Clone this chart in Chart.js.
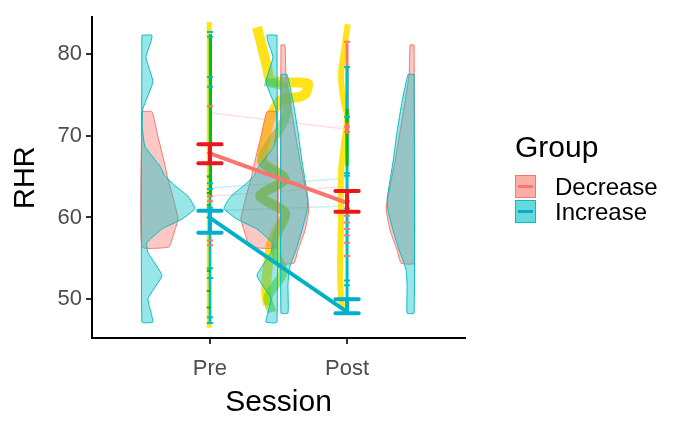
<!DOCTYPE html>
<html>
<head>
<meta charset="utf-8">
<script src="https://cdn.jsdelivr.net/npm/chart.js@4"></script>
<style>
body { margin: 0; background: #fff; }
#wrap { position: relative; width: 673px; height: 424px; font-family: "Liberation Sans", Arial, sans-serif; }
#legend { position: absolute; left: 515px; top: 130px; color: #000; }
#legend .ttl { font-size: 30px; line-height: 34px; margin-bottom: 10px; }
#legend .row { display: flex; align-items: center; height: 25px; }
#legend .key { position: relative; width: 21px; height: 23px; margin-right: 19px; box-sizing: border-box; }
#legend .key i { position: absolute; left: 2px; right: 2px; top: 9px; height: 3px; }
#legend .lab { font-size: 24px; }
</style>
</head>
<body>
<div id="wrap">
<canvas id="c" width="673" height="424"></canvas>
<div id="legend">
  <div class="ttl">Group</div>
  <div class="row"><div class="key" style="background:rgba(248,118,109,0.6);border:1px solid #F8766D"><i style="background:#F8766D"></i></div><span class="lab">Decrease</span></div>
  <div class="row"><div class="key" style="background:rgba(0,191,196,0.6);border:1px solid #00BFC4"><i style="background:#00AFC0"></i></div><span class="lab">Increase</span></div>
</div>
</div>
<script>
// sessions on the x axis: Pre = 1, Post = 2
const sessions = ['Pre', 'Post'];
const groups = ['Decrease', 'Increase'];
const yTicks = [50, 60, 70, 80];

// half violins: RHR level and half width (x units)
const preDecY = [72.95, 69.9, 66.9, 64.7, 62.0, 59.8, 58.1, 56.4];
const preDecD = [0.073, 0.117, 0.161, 0.190, 0.234, 0.263, 0.234, 0.197];
const preIncY = [82.3, 81.5, 79.6, 76.6, 73.3, 71.0, 68.7, 66.3, 65.1, 63.9, 62.6, 61.1, 59.8, 58.6, 56.9, 55.7, 52.9, 50.1, 48.4, 47.2];
const preIncD = [0.073, 0.066, 0.029, 0.080, 0.007, 0.003, 0.022, 0.131, 0.168, 0.241, 0.336, 0.387, 0.292, 0.146, 0.036, 0.044, 0.146, 0.044, 0.066, 0.080];
const postDecY = [81.1, 77.5, 74.2, 70.5, 66.9, 63.9, 61.1, 58.4, 56.0, 54.4];
const postDecD = [0.029, 0.036, 0.066, 0.102, 0.139, 0.175, 0.204, 0.175, 0.124, 0.095];
const postIncY = [77.5, 74.2, 70.5, 66.9, 63.9, 62.3, 60.8, 58.4, 56.0, 54.4, 53.5, 51.7, 48.3];
const postIncD = [0.044, 0.088, 0.124, 0.153, 0.182, 0.197, 0.190, 0.153, 0.109, 0.073, 0.058, 0.051, 0.051];

// group means with error bars (Pre, Post)
const meanDec = [67.85, 61.78];
const upperDec = [68.95, 63.24];
const lowerDec = [66.64, 60.69];
const meanInc = [59.95, 48.45];
const upperInc = [60.81, 50.0];
const lowerInc = [58.14, 48.3];

// single subjects joined Pre -> Post
const subjPre = [72.8, 63.6, 62.6, 60.8];
const subjPost = [70.8, 64.8, 63.8, 61.4];
const subjGroup = ['Decrease', 'Increase', 'Decrease', 'Increase'];

// small marks of the raw values
const preDecPts = [73.6, 67.9, 62.6, 62.0, 58.1, 57.2, 56.6];
const preIncPts = [82.7, 82.1, 77.2, 76.0, 64.2, 63.5, 61.2, 53.8, 52.6, 47.8, 47.1];
const postDecPts = [81.5, 71.1, 70.5, 60.2, 59.4, 58.6, 57.8, 56.9, 55.3];
const postIncPts = [78.4, 72.3, 65.4, 65.1, 62.0, 61.1, 52.3, 51.7, 50.1];
const preGreenPts = [65.0, 63.0, 61.5, 60.0, 53.5, 51.0, 49.0];

// vertical runs at each session
const preYellowRun = [83.9, 46.5];
const preCyanRun = [82.4, 47.2];
const preGreenRun = [82.4, 62.5];
const postPinkRun = [81.3, 70.0];
const postCyanRun = [78.4, 48.3];
const postGreenRun = [73.3, 66.3];
const postOrangeRun = [71.6, 70.2];

// wiggly traces
const bandX = [1.343, 1.380, 1.416, 1.438, 1.520, 1.657, 1.715, 1.700, 1.657, 1.511, 1.438, 1.401, 1.380, 1.547, 1.365, 1.547, 1.453, 1.423, 1.409, 1.423];
const bandY = [83.28, 80.85, 78.42, 76.84, 76.55, 76.50, 76.40, 75.20, 74.78, 74.30, 72.10, 69.31, 66.88, 64.70, 62.63, 60.57, 57.17, 54.13, 51.09, 49.27];
const greenX = [1.401, 1.533, 1.562, 1.540, 1.380, 1.547, 1.365, 1.547, 1.489, 1.489, 1.533, 1.423, 1.453];
const greenY = [76.60, 75.99, 73.81, 71.74, 66.88, 64.70, 62.63, 60.57, 57.77, 55.34, 53.28, 50.24, 48.42];
const postYellowX = [2.005, 1.978, 1.956, 1.978, 2.0, 1.978, 1.956, 1.956, 1.949, 1.956, 1.964];
const postYellowY = [83.64, 80.49, 77.21, 73.93, 72.35, 69.07, 65.42, 60.20, 54.13, 50.12, 48.91];

const PINK = '#F8766D', CYAN = '#00BFC4';
const PINK_F = 'rgba(248,118,109,0.4)', CYAN_F = 'rgba(0,191,196,0.4)';

function violin(base, dir, ys, ds) {
  const pts = [{x: base, y: ys[0]}];
  ys.forEach((y, i) => pts.push({x: base + dir * ds[i], y: y}));
  pts.push({x: base, y: ys[ys.length - 1]});
  pts.push({x: base, y: ys[0]});
  return pts;
}
function run(x, r) { return [{x: x, y: r[0]}, {x: x, y: r[1]}]; }
function xy(xs, ys) { return xs.map((x, i) => ({x: x, y: ys[i]})); }
function errBars(mean, up, lo, hw) {
  const d = [];
  mean.forEach((m, i) => {
    const x = i + 1;
    d.push({x: x - hw, y: up[i]}, {x: x + hw, y: up[i]}, {x: x, y: null});
    d.push({x: x, y: up[i]}, {x: x, y: lo[i]}, {x: x, y: null});
    d.push({x: x - hw, y: lo[i]}, {x: x + hw, y: lo[i]}, {x: x, y: null});
  });
  return d;
}
function line(data, color, w, extra) {
  return Object.assign({data: data, showLine: true, borderColor: color, borderWidth: w,
    pointRadius: 0, fill: false, tension: 0}, extra || {});
}
function area(data, color, fillColor) {
  return {data: data, showLine: true, borderColor: color, borderWidth: 1, backgroundColor: fillColor,
    pointRadius: 0, fill: 'shape', tension: 0.12};
}
function dashes(x, ys, color, r) {
  return {data: ys.map(y => ({x: x, y: y})), showLine: false, pointStyle: 'line',
    pointRadius: r, borderColor: color, borderWidth: 2, pointHoverRadius: r};
}

const layers = [];
subjPre.forEach((v, i) => {
  const c = subjGroup[i] === 'Decrease' ? 'rgba(248,118,109,0.22)' : 'rgba(0,191,196,0.22)';
  layers.push(line([{x: 1, y: v}, {x: 2, y: subjPost[i]}], c, 1.5));
});
layers.push(line(xy(bandX, bandY), '#FFE31A', 10, {tension: 0.2, borderJoinStyle: 'round'}));
layers.push(line(xy(greenX, greenY), 'rgba(110,215,0,0.6)', 9, {tension: 0.3, borderJoinStyle: 'round'}));
layers.push(line(xy(postYellowX, postYellowY), '#FFE31A', 6, {tension: 0.4}));
layers.push(line(run(0.995, preYellowRun), '#FFE31A', 5));
// violins: Pre on both sides of 1.0, Post on both sides of 2.0
layers.push(area(violin(0.504, 1, preDecY, preDecD), PINK, PINK_F));
layers.push(area(violin(0.504, 1, preIncY, preIncD), CYAN, CYAN_F));
layers.push(area(violin(1.489, -1, preDecY, preDecD), PINK, PINK_F));
layers.push(area(violin(1.489, -1, preIncY, preIncD), CYAN, CYAN_F));
layers.push(area(violin(1.518, 1, postDecY, postDecD), PINK, PINK_F));
layers.push(area(violin(1.518, 1, postIncY, postIncD), CYAN, CYAN_F));
layers.push(area(violin(2.489, -1, postDecY, postDecD), PINK, PINK_F));
layers.push(area(violin(2.489, -1, postIncY, postIncD), CYAN, CYAN_F));
// vertical runs
layers.push(line(run(1.0, preCyanRun), CYAN, 2.5));
layers.push(line(run(1.006, preGreenRun), '#00BE00', 2.5));
layers.push(line(run(2.0, postPinkRun), PINK, 3));
layers.push(line(run(2.0, postCyanRun), CYAN, 3));
layers.push(line(run(2.0, postGreenRun), '#00BE00', 3));
layers.push(line(run(2.0, postOrangeRun), '#F37A3C', 4));
layers.push(dashes(1.0, preDecPts, PINK, 3));
layers.push(dashes(1.0, preIncPts, CYAN, 3));
layers.push(dashes(0.992, preGreenPts, '#00BE00', 2));
layers.push(dashes(2.0, postDecPts, PINK, 3));
layers.push(dashes(2.0, postIncPts, CYAN, 3));
// means
layers.push(line(xy([1, 2], meanDec), PINK, 4));
layers.push(line(xy([1, 2], meanInc), '#00B2C8', 4));
layers.push(line(errBars(meanDec, upperDec, lowerDec, 0.085), '#E8191C', 4, {borderCapStyle: 'round'}));
layers.push(line(errBars(meanInc, upperInc, lowerInc, 0.085), '#00AECF', 4, {borderCapStyle: 'round'}));

const FONT = '"Liberation Sans", Arial, sans-serif';

new Chart(document.getElementById('c'), {
  type: 'scatter',
  data: {datasets: layers.slice().reverse()},
  options: {
    responsive: false,
    animation: false,
    devicePixelRatio: 1,
    layout: {padding: {left: 0, top: 15, right: 208, bottom: 0}},
    plugins: {legend: {display: false}, tooltip: {enabled: false}},
    scales: {
      x: {
        type: 'linear', min: 0.14, max: 2.86,
        afterBuildTicks: s => { s.ticks = sessions.map((n, i) => ({value: i + 1})); },
        afterFit: s => { s.height = 86; },
        ticks: {callback: v => sessions[v - 1], color: '#4d4d4d', font: {family: FONT, size: 22}, padding: 12, maxRotation: 0},
        grid: {drawOnChartArea: false, drawTicks: true, tickLength: 6, color: '#333', lineWidth: 2},
        border: {color: '#000', width: 2},
        title: {display: true, text: 'Session', color: '#000', font: {family: FONT, size: 30}, padding: {top: 0, bottom: 3}}
      },
      y: {
        type: 'linear', min: 45.26, max: 84.5,
        afterBuildTicks: s => { s.ticks = yTicks.map(v => ({value: v})); },
        afterFit: s => { s.width = 92; },
        ticks: {color: '#4d4d4d', font: {family: FONT, size: 22}, padding: 4},
        grid: {drawOnChartArea: false, drawTicks: true, tickLength: 6, color: '#333', lineWidth: 2},
        border: {color: '#000', width: 2},
        title: {display: true, text: 'RHR', color: '#000', font: {family: FONT, size: 29}, padding: {top: 9, bottom: 0}}
      }
    }
  }
});
</script>
</body>
</html>
